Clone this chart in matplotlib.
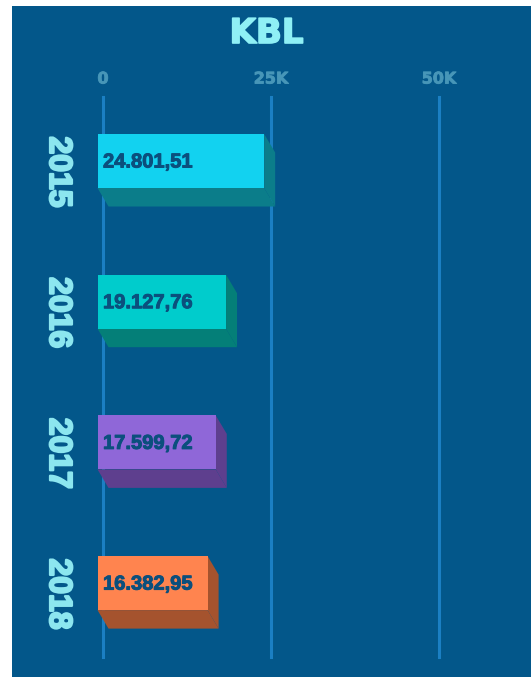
import matplotlib.pyplot as plt
import matplotlib.patheffects as pe
from matplotlib.patches import Polygon, Rectangle

# data
years = ["2015", "2016", "2017", "2018"]
values = [24801.51, 19127.76, 17599.72, 16382.95]
front_colors = ["#12d2f0", "#00cccc", "#8f67d8", "#ff844f"]
side_colors = ["#0b7d8a", "#047f78", "#5e3f8e", "#a5532e"]
grid_ticks = [0, 25000, 50000]
grid_labels = ["0", "25K", "50K"]
title = "KBL"

bg = "#03578a"
grid_col = "#1b7fc3"
tick_col = "#4796b8"
title_col = "#8ff0f5"
year_col = "#8ce6ef"
value_col = "#0b4f7d"


def fmt(v):
    # 24801.51 -> 24.801,51
    s = "{:,.2f}".format(v)
    return s.replace(",", "X").replace(".", ",").replace("X", ".")


def heavy(col, w):
    # fake a black weight by stroking the glyphs
    return [pe.withStroke(linewidth=w, foreground=col)]


W, H = 531, 677
fig = plt.figure(figsize=(W / 100, H / 100), dpi=100, facecolor="white")
ax = fig.add_axes([12 / W, 0, 1 - 12 / W, (H - 6) / H])
ax.set_facecolor(bg)
for s in ax.spines.values():
    s.set_visible(False)
ax.set_xticks([])
ax.set_yticks([])

px_x = 25000 / 168.0   # data units per pixel in x
px_y = 1 / 140.7       # data units per pixel in y (one row = 140.7 px)
ax.set_xlim(-91 * px_x, 428 * px_x)
ax.set_ylim(516 * px_y, -155 * px_y)

# grid lines
for t, lab in zip(grid_ticks, grid_labels):
    ax.plot([t, t], [-64 * px_y, 496 * px_y], color=grid_col, lw=2.2, zorder=1)
    ax.text(t, -82 * px_y, lab, color=tick_col,
            fontsize=11.5, fontweight="bold", ha="center", va="center",
            family="DejaVu Sans", path_effects=heavy(tick_col, 0.6))

# 3d bars
h = 54 * px_y
dx = 11 * px_x
dy = 18.5 * px_y
for i, v in enumerate(values):
    x0 = -dx / 2
    x1 = v - dx / 2
    yt = i - h / 2
    yb = i + h / 2
    bottom = Polygon([(x0, yb), (x1, yb), (x1 + dx, yb + dy), (x0 + dx, yb + dy)],
                     closed=True, fc=side_colors[i], ec="none", zorder=2)
    right = Polygon([(x1, yt), (x1 + dx, yt + dy), (x1 + dx, yb + dy), (x1, yb)],
                    closed=True, fc=side_colors[i], ec="none", zorder=2)
    ax.add_patch(bottom)
    ax.add_patch(right)
    ax.add_patch(Rectangle((x0, yt), x1 - x0, h, fc=front_colors[i],
                           ec="none", zorder=3))
    ax.text(0, i + 1 * px_y, fmt(v), color=value_col, fontsize=14.5,
            fontweight="bold", ha="left", va="center",
            family="Liberation Sans", zorder=4,
            path_effects=heavy(value_col, 0.7))
    ax.text(-45 * px_x, i + 11 * px_y, years[i], color=year_col, fontsize=23,
            fontweight="bold", rotation=-90, ha="center", va="center",
            family="Liberation Sans", path_effects=heavy(year_col, 1.6))

fig.text(266.5 / W, 1 - 33.5 / H, title, color=title_col, fontsize=24.5,
         fontweight="bold", ha="center", va="center", family="DejaVu Sans",
         path_effects=heavy(title_col, 1.2))

fig.savefig("out.png", dpi=100, facecolor="white")
